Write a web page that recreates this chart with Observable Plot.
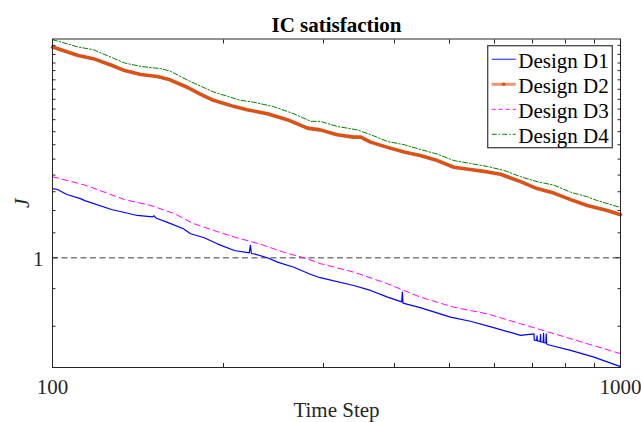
<!DOCTYPE html>
<html>
<head>
<meta charset="utf-8">
<script src="https://cdn.jsdelivr.net/npm/d3@7"></script>
<script src="https://cdn.jsdelivr.net/npm/@observablehq/plot@0.6"></script>
<style>
  body { margin: 0; background: #fff; }
  #wrap { position: relative; width: 641px; height: 422px; font-family: "Liberation Serif", "Times New Roman", serif; }
  #legend { position: absolute; left: 0; top: 0; pointer-events: none; }
</style>
</head>
<body>
<div id="wrap"></div>
<script>
// ---- data ----
const seriesNames = ["Design D1", "Design D2", "Design D3", "Design D4"];

const d1Steps  = [100,102,106,112,114,127,141,150,151,152,159,170,175,185,195,209,222,223,224,226,239,249,266,285,296,339,363,389,412,413,414,444,502,544,598,667,704,705,712,713,714,722,723,724,731,732,733,739,740,741,743,817,898,1000];
const d1Values = [1.62,1.61,1.555,1.51,1.49,1.40,1.343,1.33,1.34,1.32,1.282,1.224,1.182,1.15,1.102,1.052,1.035,1.09,1.03,1.028,1.0,0.97,0.936,0.89,0.87,0.824,0.796,0.76,0.735,0.787,0.729,0.706,0.661,0.642,0.614,0.582,0.588,0.563,0.562,0.58,0.56,0.558,0.585,0.556,0.555,0.59,0.553,0.552,0.588,0.55,0.546,0.524,0.5,0.468];

const d2Steps  = [100,111,118,127,134,143,153,161,173,182,192,209,220,239,259,281,296,317,339,349,363,389,416,444,476,509,544,583,615,667,713,763,817,874,948,1000];
const d2Values = [4.35,4.10,4.01,3.83,3.69,3.59,3.54,3.46,3.28,3.13,3.00,2.87,2.81,2.73,2.62,2.47,2.44,2.36,2.32,2.32,2.24,2.16,2.09,2.04,1.97,1.88,1.85,1.82,1.79,1.70,1.62,1.57,1.50,1.44,1.39,1.35];

const d3Steps  = [100,114,121,134,149,164,177,195,209,232,255,281,296,339,389,444,509,583,667,763,874,1000];
const d3Values = [1.76,1.66,1.60,1.50,1.44,1.36,1.27,1.20,1.155,1.10,1.04,0.993,0.96,0.905,0.834,0.76,0.708,0.676,0.631,0.589,0.549,0.512];

const d4Steps  = [100,111,118,134,143,155,161,173,192,214,226,245,266,285,296,317,344,363,389,416,444,476,509,544,583,623,667,713,763,817,874,910,1000];
const d4Values = [4.58,4.35,4.27,3.89,3.80,3.74,3.68,3.45,3.18,3.00,2.96,2.87,2.73,2.59,2.59,2.50,2.44,2.36,2.25,2.20,2.13,2.06,1.97,1.93,1.89,1.84,1.76,1.70,1.66,1.58,1.53,1.49,1.42];

const referenceLevel = [1];
const xTicks = [100,200,300,400,500,600,700,800,900,1000];
const xTickLabels = ["100", "1000"];
const yMinorTicks = [0.62,0.806,1.19,1.39,1.585,1.78,1.99,2.2,2.41,2.62,2.82,3.02,3.24,3.46,3.69,3.89,4.13,4.4];
const yMajorTicks = [1];
const yTickLabels = ["1"];
const titleText = "IC satisfaction";
const xLabel = "Time Step";
const yLabel = "J";

const toRows = (steps, values) => steps.map((s, i) => ({step: s, value: values[i]}));
const d1 = toRows(d1Steps, d1Values);
const d2 = toRows(d2Steps, d2Values);
const d3 = toRows(d3Steps, d3Values);
const d4 = toRows(d4Steps, d4Values);

const ink = "#262626";
const blank = () => "";

const chart = Plot.plot({
  width: 641,
  height: 422,
  marginLeft: 52,
  marginRight: 21,
  marginTop: 38.5,
  marginBottom: 55,
  style: {fontFamily: "'Liberation Serif', 'Times New Roman', serif", fontSize: "21px", color: ink, background: "#fff", overflow: "visible"},
  x: {type: "log", domain: [100, 1000]},
  y: {type: "log", domain: [0.465, 4.60]},
  marks: [
    Plot.ruleY(referenceLevel, {y: d => d, stroke: "#808080", strokeWidth: 1.4, strokeDasharray: "6,3.5"}),
    Plot.line(d4, {x: "step", y: "value", stroke: "#008000", strokeWidth: 1, strokeDasharray: "5,2,1.5,2"}),
    Plot.line(d3, {x: "step", y: "value", stroke: "#ff00ff", strokeWidth: 1, strokeDasharray: "6,4"}),
    Plot.line(d2, {x: "step", y: "value", stroke: "#d95319", strokeWidth: 3.6}),
    Plot.line(d1, {x: "step", y: "value", stroke: "#0000ff", strokeWidth: 1.2}),
    Plot.frame({stroke: ink, strokeWidth: 1}),
    Plot.axisX(xTicks, {anchor: "bottom", tickSize: -4, tickFormat: blank, label: null, stroke: ink}),
    Plot.axisX(xTicks, {anchor: "top", tickSize: -4, tickFormat: blank, label: null, stroke: ink}),
    Plot.axisY(yMinorTicks, {anchor: "left", tickSize: -3.5, tickFormat: blank, label: null, stroke: ink}),
    Plot.axisY(yMinorTicks, {anchor: "right", tickSize: -3.5, tickFormat: blank, label: null, stroke: ink}),
    Plot.axisY(yMajorTicks, {anchor: "left", tickSize: -5.5, tickFormat: blank, label: null, stroke: ink}),
    Plot.axisY(yMajorTicks, {anchor: "right", tickSize: -5.5, tickFormat: blank, label: null, stroke: ink}),
    Plot.text(xTickLabels, {x: d => +d, text: d => d, frameAnchor: "bottom", dy: 26, lineAnchor: "bottom", textAnchor: "middle", fill: ink, fontSize: 21}),
    Plot.text(yTickLabels, {y: d => +d, text: d => d, frameAnchor: "left", dx: -9, dy: 8, lineAnchor: "bottom", textAnchor: "end", fill: ink, fontSize: 21}),
    Plot.text([xLabel], {frameAnchor: "bottom", dy: 49, lineAnchor: "bottom", textAnchor: "middle", fill: ink, fontSize: 21}),
    Plot.text([yLabel], {frameAnchor: "left", dx: -30.5, rotate: -90, lineAnchor: "middle", textAnchor: "middle", fill: ink, fontSize: 21, fontStyle: "italic"}),
    Plot.text([titleText], {frameAnchor: "top", dy: -6.8, lineAnchor: "bottom", textAnchor: "middle", fill: "#000", fontSize: 21, fontWeight: "bold"})
  ]
});

const wrap = document.getElementById("wrap");
wrap.appendChild(chart);

// ---- legend (overlay, plain DOM) ----
const legendStyles = [
  {color: "#0000ff", width: 1.2, dash: null, opacity: 0.75, dot: false},
  {color: "#d95319", width: 3, dash: null, opacity: 0.6, dot: true},
  {color: "#ff00ff", width: 1, dash: "4,3", opacity: 1, dot: false},
  {color: "#008000", width: 1, dash: "5,2,1.5,2", opacity: 1, dot: false}
];
const NS = "http://www.w3.org/2000/svg";
const mk = (tag, attrs) => {
  const el = document.createElementNS(NS, tag);
  for (const [k, v] of Object.entries(attrs)) if (v != null) el.setAttribute(k, v);
  return el;
};
const svg = mk("svg", {id: "legend", width: 641, height: 422});
svg.appendChild(mk("rect", {x: 487.7, y: 45.7, width: 124.6, height: 102, fill: "#fff", stroke: "#454545", "stroke-width": 1.3}));
seriesNames.forEach((name, i) => {
  const cy = 59.3 + i * 25;
  const st = legendStyles[i];
  svg.appendChild(mk("line", {x1: 491.7, x2: 515.7, y1: cy, y2: cy, stroke: st.color, "stroke-width": st.width, "stroke-opacity": st.opacity, "stroke-dasharray": st.dash}));
  if (st.dot) svg.appendChild(mk("circle", {cx: 503.7, cy: cy, r: 1.8, fill: st.color}));
  const t = mk("text", {x: 518.3, y: cy + 8.7, "font-family": "'Liberation Serif', 'Times New Roman', serif", "font-size": 21, fill: "#000"});
  t.textContent = name;
  svg.appendChild(t);
});
wrap.appendChild(svg);
</script>
</body>
</html>
